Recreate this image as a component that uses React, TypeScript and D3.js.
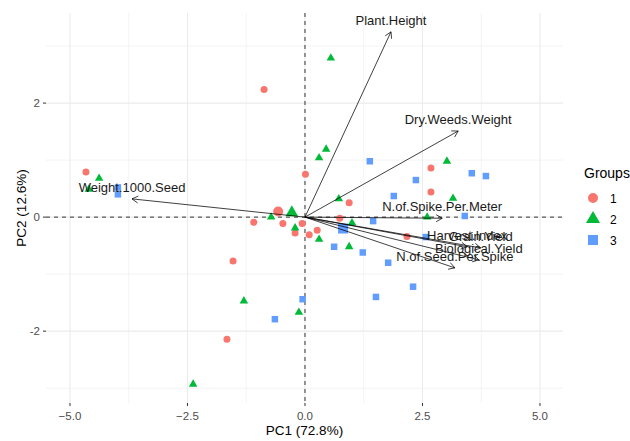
import React from 'react';
import * as d3 from 'd3';

// PCA scores (PC1, PC2) per group
const group1 = [
  [-4.66, 0.79], [-0.87, 2.24], [0.01, 0.75], [0.94, 0.25], [2.68, 0.86], [2.68, 0.44],
  [-1.09, -0.09], [-0.47, -0.11], [-0.06, -0.11], [-0.21, -0.28], [0.09, -0.31], [0.26, -0.23],
  [0.74, -0.02], [-1.53, -0.77], [-1.66, -2.14], [2.17, -0.34],
];
const group2 = [
  [-4.38, 0.68], [-4.6, 0.49], [0.55, 2.79], [0.45, 1.19], [0.3, 1.04], [3.02, 0.98],
  [3.15, 0.33], [0.72, 0.32], [-0.72, 0.0], [-0.21, -0.19], [0.3, -0.39], [1.0, -0.1],
  [0.94, -0.52], [2.6, 0.0], [-1.3, -1.47], [-0.13, -1.67], [-2.38, -2.93],
];
const group3 = [
  [-3.98, 0.52], [-3.98, 0.4], [1.38, 0.98], [3.55, 0.77], [3.85, 0.72], [2.36, 0.65],
  [1.89, 0.37], [3.4, 0.02], [1.45, -0.07], [0.62, -0.52], [1.23, -0.62], [1.77, -0.8],
  [2.57, -0.35], [2.3, -1.22], [1.51, -1.4], [-0.05, -1.44], [-0.64, -1.79],
];
const groupNames = ['1', '2', '3'];
const groupColors = ['#F8766D', '#00BA38', '#619CFF'];
const groupShapes = ['circle', 'triangle', 'square'];
const centroids = [[-0.57, 0.1], [-0.28, 0.08], [0.81, -0.2]];

// variable loadings (arrow ends)
const varNames = [
  'Plant.Height', 'Dry.Weeds.Weight', 'N.of.Spike.Per.Meter', 'Weight.1000.Seed',
  'Harvest.Index', 'Grain.Yield', 'Biological.Yield', 'N.of.Seed.Per.Spike',
];
const varPC1 = [1.83, 3.26, 2.92, -3.68, 3.45, 3.74, 3.7, 3.19];
const varPC2 = [3.25, 1.51, -0.02, 0.32, -0.52, -0.54, -0.75, -0.89];

const xTicks = [-5, -2.5, 0, 2.5, 5];
const xMinor = [-3.75, -1.25, 1.25, 3.75];
const yTicks = [-2, 0, 2];
const yMinor = [-3, -1, 1, 3];

const font = '"Liberation Sans", Arial, sans-serif';

function Shape({ kind, cx, cy, s, fill }: { kind: string; cx: number; cy: number; s: number; fill: string }) {
  if (kind === 'circle') return <circle cx={cx} cy={cy} r={s / 2} fill={fill} />;
  if (kind === 'square') return <rect x={cx - s / 2} y={cy - s / 2} width={s} height={s} fill={fill} />;
  const h = (s * Math.sqrt(3)) / 2;
  const pts = [
    [cx, cy - (h * 2) / 3],
    [cx - s / 2, cy + h / 3],
    [cx + s / 2, cy + h / 3],
  ];
  return <polygon points={pts.map((p) => p.join(',')).join(' ')} fill={fill} />;
}

export default function App() {
  const width = 630;
  const height = 441;
  const panel = { left: 46, right: 563, top: 13, bottom: 403 };

  const x = d3.scaleLinear().domain([-5.51, 5.49]).range([panel.left, panel.right]);
  const y = d3.scaleLinear().domain([3.58, -3.26]).range([panel.top, panel.bottom]);

  const groups = [group1, group2, group3];
  const smallSize = [7, 8.5, 6.5];
  const bigSize = [10, 12.5, 10];
  const fmt = d3.format('.1f');

  const headLen = 7;

  return (
    <svg width={width} height={height} style={{ position: 'absolute', left: 0, top: 0, background: '#fff' }}
      fontFamily={font}>
      {/* grid */}
      {xMinor.map((t) => (
        <line key={'xm' + t} x1={x(t)} x2={x(t)} y1={panel.top} y2={panel.bottom} stroke="#EBEBEB" strokeWidth={0.6} />
      ))}
      {yMinor.map((t) => (
        <line key={'ym' + t} x1={panel.left} x2={panel.right} y1={y(t)} y2={y(t)} stroke="#EBEBEB" strokeWidth={0.6} />
      ))}
      {xTicks.map((t) => (
        <line key={'xg' + t} x1={x(t)} x2={x(t)} y1={panel.top} y2={panel.bottom} stroke="#EBEBEB" strokeWidth={1.1} />
      ))}
      {yTicks.map((t) => (
        <line key={'yg' + t} x1={panel.left} x2={panel.right} y1={y(t)} y2={y(t)} stroke="#EBEBEB" strokeWidth={1.1} />
      ))}

      {/* axes ticks and labels */}
      {xTicks.map((t) => (
        <g key={'xt' + t}>
          <line x1={x(t)} x2={x(t)} y1={panel.bottom} y2={panel.bottom + 3} stroke="#333" strokeWidth={1} />
          <text x={x(t)} y={panel.bottom + 17} textAnchor="middle" fontSize={11.5} fill="#4D4D4D">
            {fmt(t)}
          </text>
        </g>
      ))}
      {yTicks.map((t) => (
        <g key={'yt' + t}>
          <line x1={panel.left - 3} x2={panel.left} y1={y(t)} y2={y(t)} stroke="#333" strokeWidth={1} />
          <text x={panel.left - 6} y={y(t) + 4} textAnchor="end" fontSize={11.5} fill="#4D4D4D">
            {t}
          </text>
        </g>
      ))}
      <text x={(panel.left + panel.right) / 2} y={435} textAnchor="middle" fontSize={13.5} fill="#000">
        PC1 (72.8%)
      </text>
      <text transform={`translate(26,${(panel.top + panel.bottom) / 2}) rotate(-90)`} textAnchor="middle"
        fontSize={13.5} fill="#000">
        PC2 (12.6%)
      </text>

      {/* reference lines */}
      <line x1={x(0)} x2={x(0)} y1={panel.top} y2={panel.bottom} stroke="#000" strokeWidth={0.8} strokeDasharray="4,4" />
      <line x1={panel.left} x2={panel.right} y1={y(0)} y2={y(0)} stroke="#000" strokeWidth={0.8} strokeDasharray="4,4" />

      {/* individuals */}
      {groups.map((g, gi) =>
        g.map((d, i) => (
          <Shape key={gi + '-' + i} kind={groupShapes[gi]} cx={x(d[0])} cy={y(d[1])} s={smallSize[gi]} fill={groupColors[gi]} />
        ))
      )}
      {/* group means */}
      {centroids.map((d, gi) => (
        <Shape key={'c' + gi} kind={groupShapes[gi]} cx={x(d[0])} cy={y(d[1])} s={bigSize[gi]} fill={groupColors[gi]} />
      ))}

      {/* variable arrows */}
      {varNames.map((name, i) => {
        const x0 = x(0);
        const y0 = y(0);
        const x1 = x(varPC1[i]);
        const y1 = y(varPC2[i]);
        const a = Math.atan2(y1 - y0, x1 - x0);
        const h1 = [x1 - headLen * Math.cos(a - Math.PI / 6), y1 - headLen * Math.sin(a - Math.PI / 6)];
        const h2 = [x1 - headLen * Math.cos(a + Math.PI / 6), y1 - headLen * Math.sin(a + Math.PI / 6)];
        return (
          <g key={name} stroke="#000" strokeWidth={0.75} fill="none">
            <line x1={x0} y1={y0} x2={x1} y2={y1} />
            <polyline points={`${h1[0]},${h1[1]} ${x1},${y1} ${h2[0]},${h2[1]}`} />
          </g>
        );
      })}
      {varNames.map((name, i) => (
        <text key={'l' + name} x={x(varPC1[i])} y={y(varPC2[i]) - 7} textAnchor="middle" fontSize={13} fill="#1a1a1a">
          {name}
        </text>
      ))}

      {/* legend */}
      <text x={584} y={178} fontSize={14} fill="#000">Groups</text>
      {groupNames.map((n, gi) => (
        <g key={'lg' + n}>
          <Shape kind={groupShapes[gi]} cx={593} cy={198 + gi * 21} s={[10, 14, 10][gi]} fill={groupColors[gi]} />
          <text x={610} y={198 + gi * 21 + 4.5} fontSize={12} fill="#000">{n}</text>
        </g>
      ))}
    </svg>
  );
}
